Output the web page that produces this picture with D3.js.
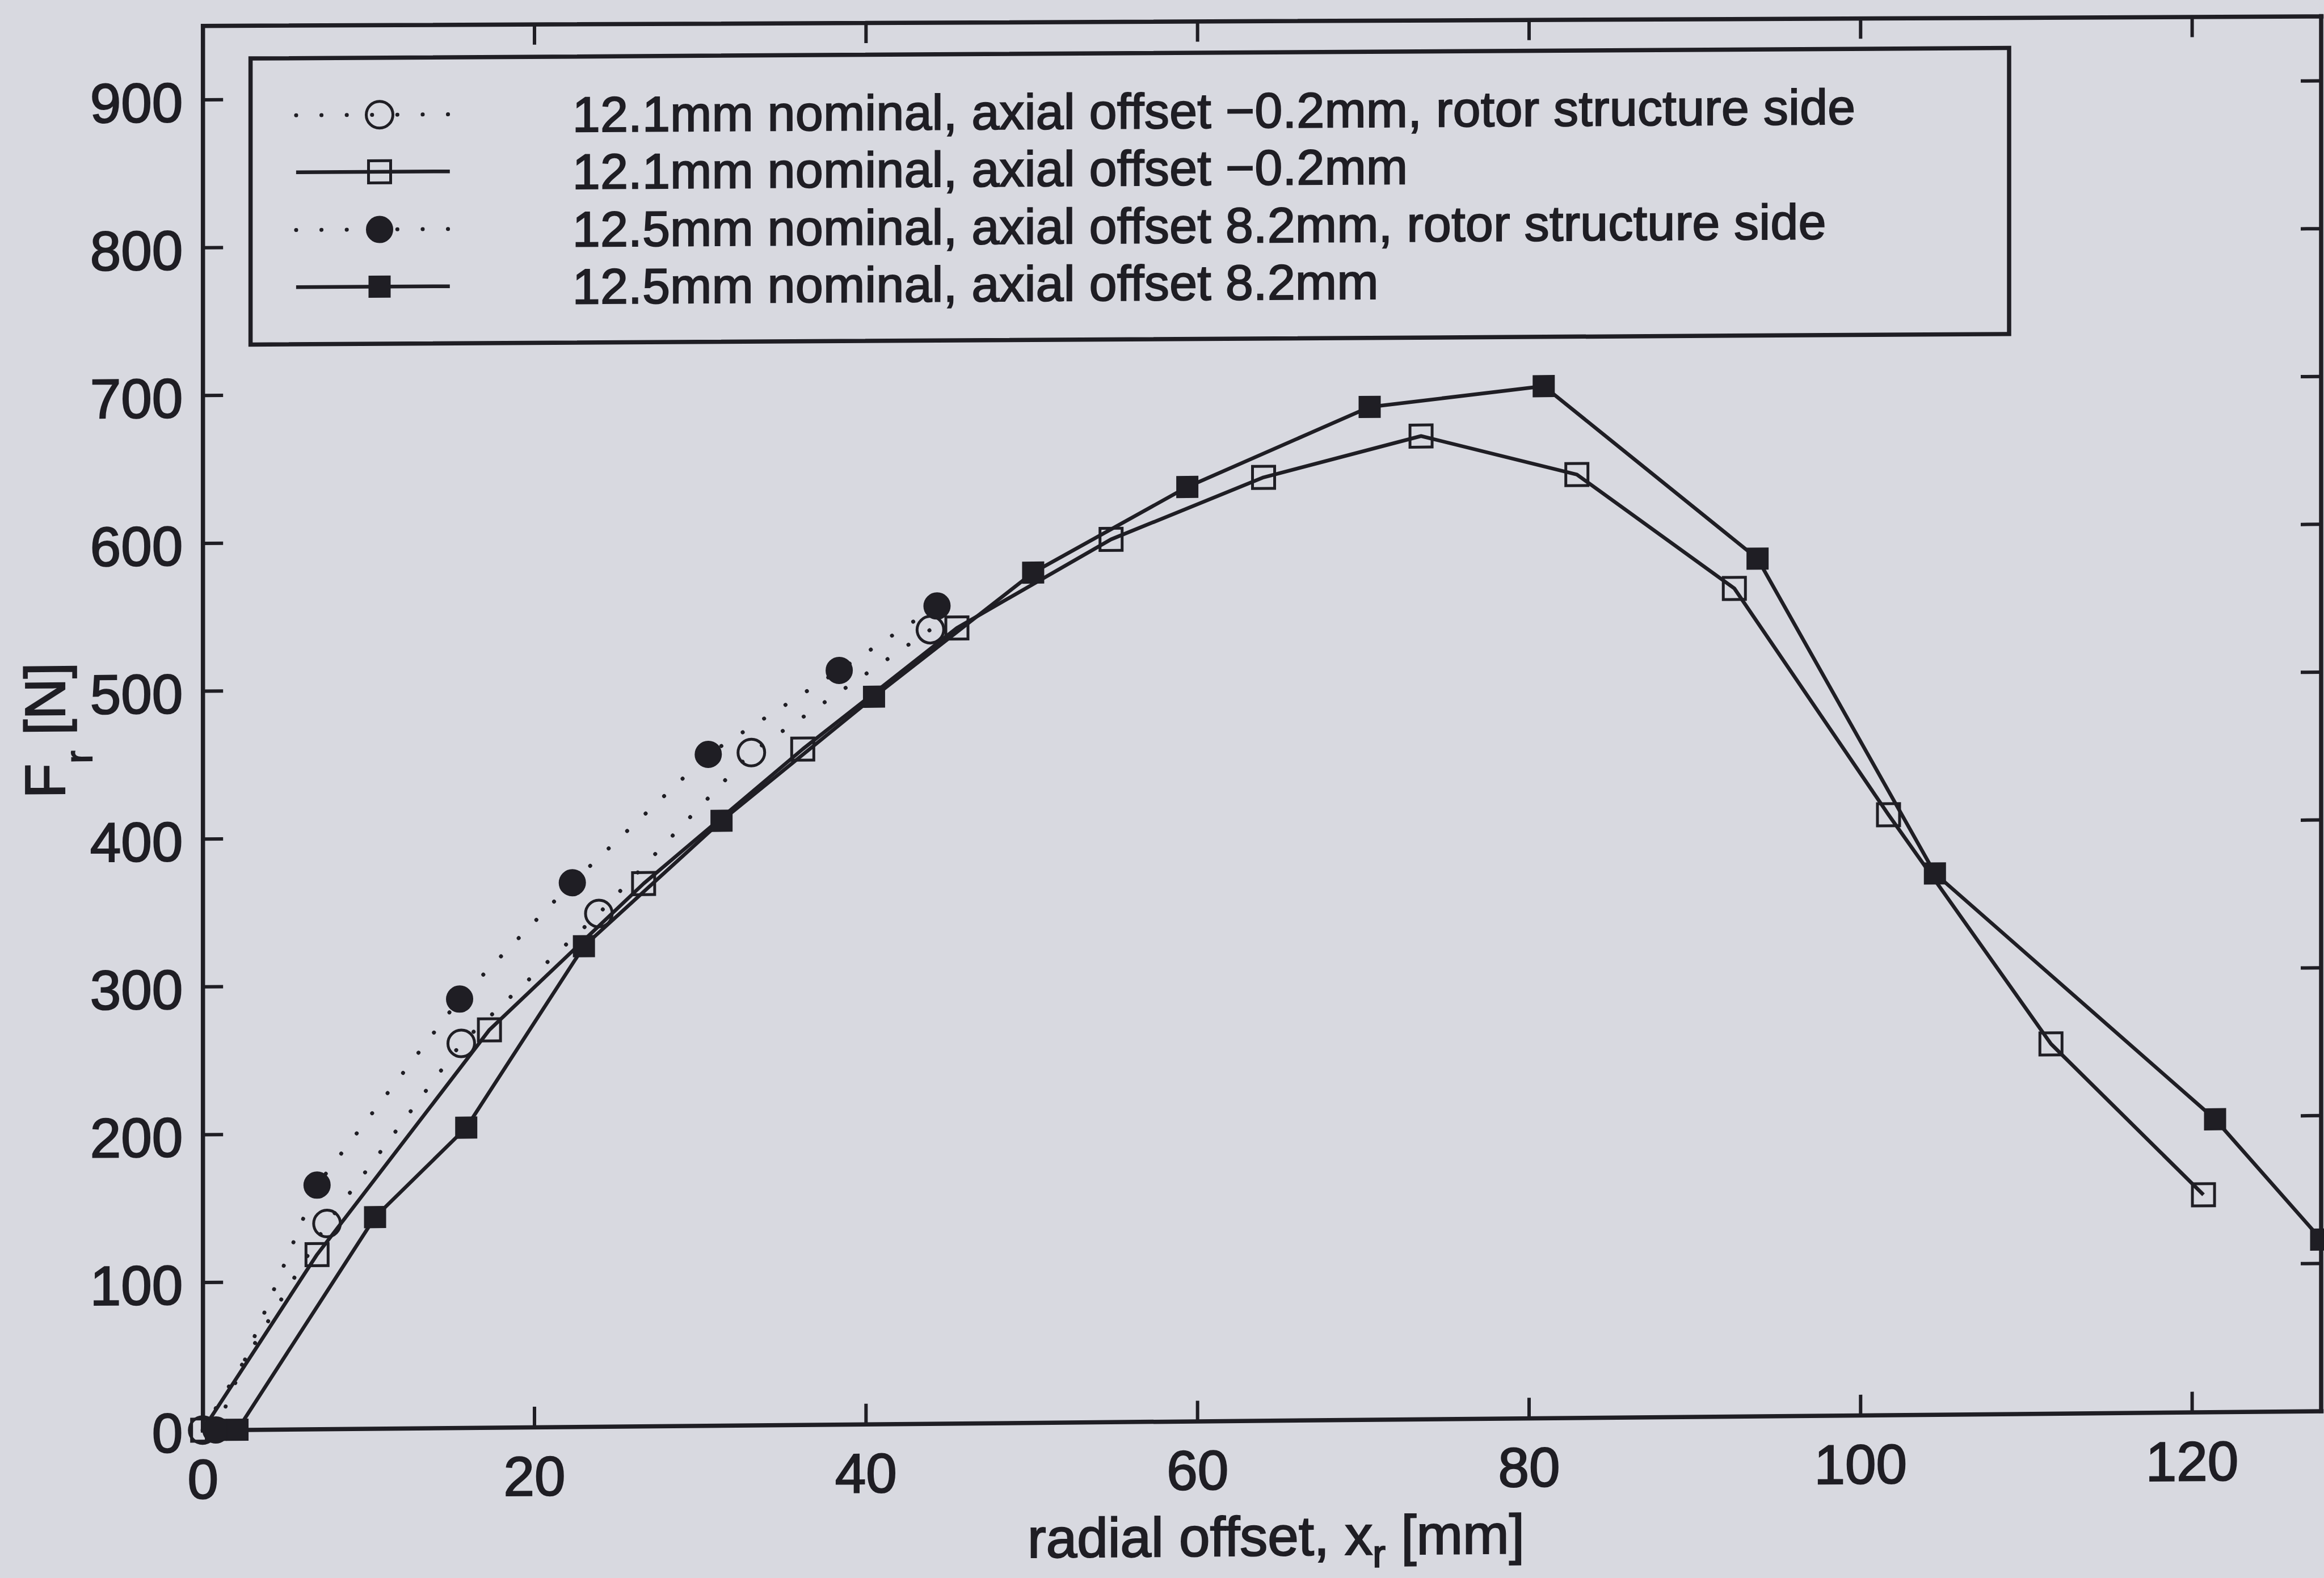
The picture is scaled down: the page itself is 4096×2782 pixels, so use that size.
<!DOCTYPE html>
<html>
<head>
<meta charset="utf-8">
<script src="https://cdn.jsdelivr.net/npm/d3@7"></script>
<style>
  html, body { margin: 0; padding: 0; background: #d8d9e0; }
  svg { display: block; }
</style>
</head>
<body>
<svg id="chart" width="4096" height="2782"></svg>
<script>
// values
const xTicks = [0, 20, 40, 60, 80, 100, 120];
const yTicks = [0, 100, 200, 300, 400, 500, 600, 700, 800, 900];

const openCircleX = [0, 7.5, 15.6, 23.9, 33.1, 43.9];
const openCircleY = [0, 139, 260, 347, 455, 537];

const openSquareX = [0, 6.9, 17.3, 26.6, 36.2, 45.5, 54.8, 64.0, 73.5, 82.9, 92.4, 101.7, 111.5, 120.7];
const openSquareY = [0, 118, 269, 367, 457, 538, 597, 638, 665, 638, 560, 406, 250, 147];

const filledCircleX = [0.8, 6.9, 15.5, 22.3, 30.5, 38.4, 44.3];
const filledCircleY = [0, 165, 290, 368, 454, 510, 553];

const filledSquareX = [0.8, 2.1, 10.4, 15.9, 23.0, 31.3, 40.5, 50.1, 59.4, 70.4, 80.9, 93.8, 104.5, 121.4, 127.8];
const filledSquareY = [0, 0, 143, 203, 325, 409, 492, 575, 632, 685, 698, 580, 366, 198, 116];

const legendLabels = [
  '12.1mm nominal, axial offset \u22120.2mm, rotor structure side',
  '12.1mm nominal, axial offset \u22120.2mm',
  '12.5mm nominal, axial offset 8.2mm, rotor structure side',
  '12.5mm nominal, axial offset 8.2mm'
];

const ink = '#1f1e24';
const font = '"Liberation Sans", Arial, Helvetica, sans-serif';

const svg = d3.select('#chart');

const x = d3.scaleLinear().domain([0, 127.8]).range([357.2, 4091]);
const y = d3.scaleLinear().domain([0, 950]).range([2521.2, 45.3]);
const x0 = x(0);

// the scan is sheared a little: horizontal lines climb towards the right
function shear(s) {
  const a = Math.atan(-s) * 180 / Math.PI;
  return 'translate(' + x0 + ',0) skewY(' + a + ') translate(' + (-x0) + ',0)';
}
const mainShear = 0.009;
const topShear = 0.0045;
const legendShear = 0.006;

// printed ink spreads a bit, so text gets a thin outline
function inkText(sel) {
  sel.attr('fill', ink).attr('stroke', ink).attr('stroke-width', 2.2);
}

const g = svg.append('g').attr('transform', shear(mainShear));

function styleAxis(sel, size) {
  sel.attr('font-family', font).attr('font-size', size);
  sel.select('.domain').attr('stroke', ink).attr('stroke-width', 7.5).attr('stroke-linecap', 'square');
  sel.selectAll('.tick line').attr('stroke', ink).attr('stroke-width', 6);
  sel.selectAll('.tick text').call(inkText);
}

// bottom axis
g.append('g')
  .attr('transform', 'translate(0,' + y(0) + ')')
  .call(d3.axisBottom(x).tickValues(xTicks).tickSizeInner(-36).tickSizeOuter(0).tickPadding(51))
  .call(styleAxis, 98);

// left axis
g.append('g')
  .attr('transform', 'translate(' + x0 + ',0)')
  .call(d3.axisLeft(y).tickValues(yTicks).tickSizeInner(-36).tickSizeOuter(0).tickPadding(35))
  .call(styleAxis, 98)
  .selectAll('.tick text').attr('dy', '0.39em');

// right axis, ticks only; the frame line is drawn below
const right = g.append('g')
  .attr('transform', 'translate(' + x(127.8) + ',0)')
  .call(d3.axisRight(y).tickValues(yTicks).tickSizeInner(-36).tickSizeOuter(0).tickFormat(''))
  .call(styleAxis, 98);
right.select('.domain').remove();

const plotW = x(127.8) - x0;
g.append('line')
  .attr('x1', x(127.8)).attr('x2', x(127.8))
  .attr('y1', y(950) + (mainShear - topShear) * plotW)
  .attr('y2', y(0))
  .attr('stroke', ink).attr('stroke-width', 7.5).attr('stroke-linecap', 'square');

// top axis sits on its own, less sheared
svg.append('g')
  .attr('transform', shear(topShear))
  .append('g')
  .attr('transform', 'translate(0,' + y(950) + ')')
  .call(d3.axisTop(x).tickValues(xTicks).tickSizeInner(-36).tickSizeOuter(0).tickFormat(''))
  .call(styleAxis, 98);

// axis labels
const xl = g.append('text')
  .attr('x', 2249).attr('y', y(0) + 238)
  .attr('text-anchor', 'middle')
  .attr('font-family', font).attr('font-size', 98)
  .call(inkText);
xl.append('tspan').text('radial offset, x');
xl.append('tspan').attr('font-size', 68).attr('dy', 22).text('r');
xl.append('tspan').attr('dy', -22).text(' [mm]');

const yl = g.append('text')
  .attr('transform', 'translate(114,' + ((y(0) + y(950)) / 2 + 2) + ') rotate(-90)')
  .attr('text-anchor', 'middle')
  .attr('font-family', font).attr('font-size', 100)
  .call(inkText);
yl.append('tspan').text('F');
yl.append('tspan').attr('font-size', 67).attr('dy', 48).text('r');
yl.append('tspan').attr('dy', -48).text(' [N]');

// series
const series = [
  { xs: openCircleX, ys: openCircleY, dotted: true, shape: d3.symbolCircle, filled: false, size: Math.PI * 23.5 * 23.5 },
  { xs: openSquareX, ys: openSquareY, dotted: false, shape: d3.symbolSquare, filled: false, size: 39 * 39 },
  { xs: filledCircleX, ys: filledCircleY, dotted: true, shape: d3.symbolCircle, filled: true, size: Math.PI * 23 * 23 },
  { xs: filledSquareX, ys: filledSquareY, dotted: false, shape: d3.symbolSquare, filled: true, size: 37 * 37 }
];

const line = d3.line()
  .x(d => x(d[0]))
  .y(d => y(d[1]));

function styleLine(sel, s) {
  sel.attr('fill', 'none').attr('stroke', ink);
  if (s.dotted) {
    sel.attr('stroke-width', 7).attr('stroke-linecap', 'round').attr('stroke-dasharray', '0.1 44.5');
  } else {
    sel.attr('stroke-width', 6.5).attr('stroke-linejoin', 'round');
  }
}

function styleMarker(sel, s) {
  if (s.filled) {
    sel.attr('fill', ink).attr('stroke', ink).attr('stroke-width', 2);
  } else {
    sel.attr('fill', 'none').attr('stroke', ink).attr('stroke-width', 5);
  }
}

series.forEach(s => {
  const pts = d3.zip(s.xs, s.ys);
  g.append('path').datum(pts).attr('d', line).call(styleLine, s);
  g.append('g').selectAll('path')
    .data(pts)
    .join('path')
    .attr('transform', d => 'translate(' + x(d[0]) + ',' + y(d[1]) + ')')
    .attr('d', d3.symbol().type(s.shape).size(s.size))
    .call(styleMarker, s);
});

// legend
const lg = svg.append('g').attr('transform', shear(legendShear));
lg.append('rect')
  .attr('x', 441.6).attr('y', 103.6)
  .attr('width', 3099.4).attr('height', 504.4)
  .attr('fill', 'none').attr('stroke', ink).attr('stroke-width', 7.5);

const rowY = [204.2, 304.8, 406.4, 507.3];
series.forEach((s, i) => {
  const row = lg.append('g').attr('transform', 'translate(0,' + rowY[i] + ')');
  row.append('line')
    .attr('x1', 521.9).attr('x2', 792.8)
    .attr('y1', 0).attr('y2', 0)
    .call(styleLine, s);
  row.append('path')
    .attr('transform', 'translate(669,0)')
    .attr('d', d3.symbol().type(s.shape).size(s.size))
    .call(styleMarker, s);
  row.append('text')
    .attr('x', 1009).attr('y', 32)
    .attr('font-family', font).attr('font-size', 87.5)
    .attr('letter-spacing', 0.5)
    .call(inkText)
    .text(legendLabels[i]);
});
</script>
</body>
</html>
